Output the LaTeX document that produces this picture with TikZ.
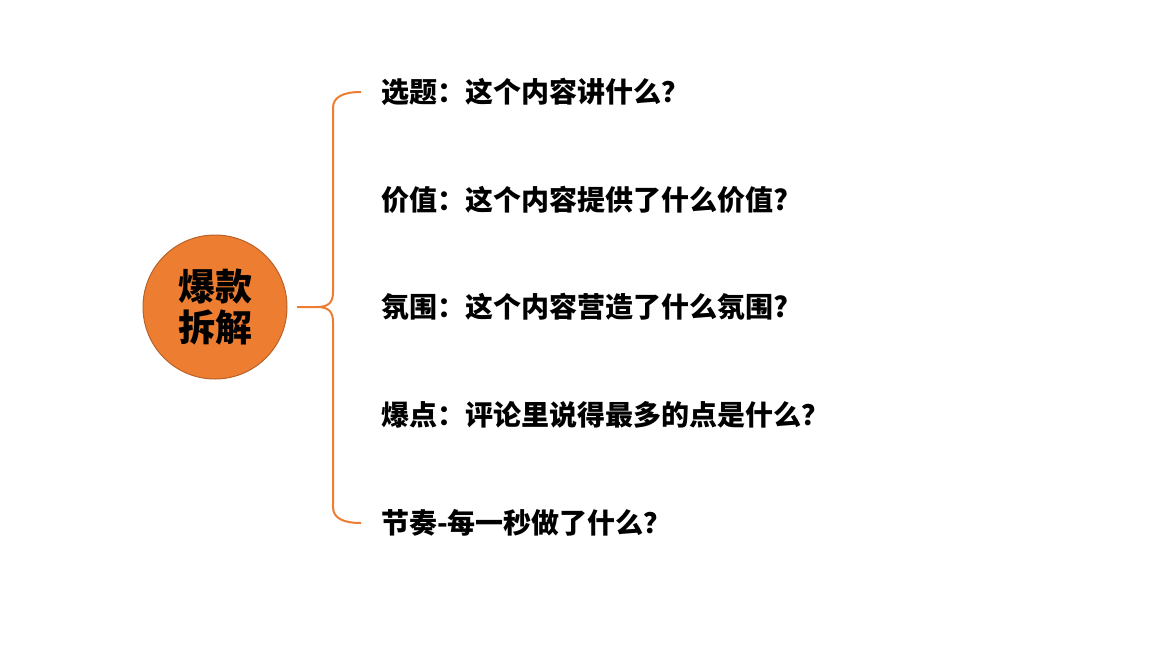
\documentclass[tikz,border=0pt]{standalone}
\usepackage{fontspec}
\newfontfamily\cjk{Noto Sans CJK SC}
\usetikzlibrary{positioning}
\definecolor{hubfill}{HTML}{ED7D31}
\definecolor{hubline}{HTML}{B8622A}

\begin{document}
\begin{tikzpicture}[x=1pt,y=-1pt]
\tikzstyle{every node}+=[inner sep=0pt]
\tikzstyle{hub}=[circle, draw=hubline, fill=hubfill, line width=1pt, minimum size=144pt, align=center, font=\cjk\bfseries\fontsize{37}{41}\selectfont]
\tikzstyle{item}=[anchor=west, font=\cjk\bfseries\fontsize{28}{32}\selectfont]
\tikzstyle{brace}=[draw=hubfill, line width=2pt]
\useasboundingbox (0,0) rectangle (1165,645);
\node[hub] (hub) at (215,307) {爆款\\拆解};
\node[item] (topic) at (381,92) {选题：这个内容讲什么？};
\node[item] (value) at (381,200) {价值：这个内容提供了什么价值?};
\node[item] (mood) at (381,307) {氛围：这个内容营造了什么氛围?};
\node[item] (hot) at (381,415) {爆点：评论里说得最多的点是什么？};
\node[item] (pace) at (381,523) {节奏-每一秒做了什么？};
\coordinate (root) at (297,307);
\coordinate (topend) at (361,92);
\coordinate (lowend) at (361,523);
% brace
\draw[brace] (root) -- (317,307) .. controls (329,307) and (333,302) .. (333,292)
  -- (333,108) .. controls (333,97) and (343,92) .. (topend);
\draw[brace] (317,307) .. controls (329,307) and (333,312) .. (333,322)
  -- (333,507) .. controls (333,518) and (343,523) .. (lowend);
\end{tikzpicture}
\end{document}
